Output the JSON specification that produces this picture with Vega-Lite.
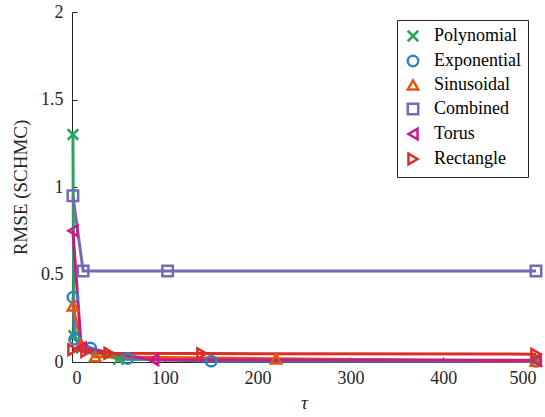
{
  "$schema": "https://vega.github.io/schema/vega-lite/v6.json",
  "autosize": "none",
  "width": 464,
  "height": 350,
  "padding": {"left": 72, "top": 12, "right": 9, "bottom": 55},
  "background": "white",
  "config": {
    "view": {"stroke": null},
    "font": "Liberation Serif",
    "axis": {"grid": false, "domainColor": "#262626", "tickColor": "#262626", "labelColor": "#262626", "titleColor": "#262626", "labelFont": "Liberation Serif", "titleFont": "Liberation Serif", "labelFontSize": 18, "titleFontSize": 19, "titleFontWeight": "normal", "tickSize": -5, "domainWidth": 1, "tickWidth": 1}
  },
  "data": {"values": [
    {"s": "Polynomial", "tau": 1, "rmse": 1.3},
    {"s": "Polynomial", "tau": 2, "rmse": 0.15},
    {"s": "Polynomial", "tau": 10, "rmse": 0.08},
    {"s": "Polynomial", "tau": 50, "rmse": 0.015},
    {"s": "Polynomial", "tau": 500, "rmse": 0.008},
    {"s": "Exponential", "tau": 1, "rmse": 0.37},
    {"s": "Exponential", "tau": 3, "rmse": 0.13},
    {"s": "Exponential", "tau": 20, "rmse": 0.08},
    {"s": "Exponential", "tau": 60, "rmse": 0.02},
    {"s": "Exponential", "tau": 150, "rmse": 0.005},
    {"s": "Exponential", "tau": 500, "rmse": 0.004},
    {"s": "Sinusoidal", "tau": 1, "rmse": 0.32},
    {"s": "Sinusoidal", "tau": 10, "rmse": 0.1},
    {"s": "Sinusoidal", "tau": 25, "rmse": 0.03},
    {"s": "Sinusoidal", "tau": 220, "rmse": 0.018},
    {"s": "Sinusoidal", "tau": 500, "rmse": 0.005},
    {"s": "Combined", "tau": 1, "rmse": 0.95},
    {"s": "Combined", "tau": 12, "rmse": 0.52},
    {"s": "Combined", "tau": 103, "rmse": 0.52},
    {"s": "Combined", "tau": 500, "rmse": 0.52},
    {"s": "Torus", "tau": 1, "rmse": 0.75},
    {"s": "Torus", "tau": 10, "rmse": 0.08},
    {"s": "Torus", "tau": 88, "rmse": 0.012},
    {"s": "Torus", "tau": 500, "rmse": 0.01},
    {"s": "Rectangle", "tau": 1, "rmse": 0.07},
    {"s": "Rectangle", "tau": 15, "rmse": 0.06},
    {"s": "Rectangle", "tau": 40, "rmse": 0.05},
    {"s": "Rectangle", "tau": 140, "rmse": 0.048},
    {"s": "Rectangle", "tau": 500, "rmse": 0.045}
  ]},
  "encoding": {
    "x": {"field": "tau", "type": "quantitative", "scale": {"domain": [0, 500], "nice": false}, "axis": {"values": [0, 100, 200, 300, 400, 500], "title": "τ", "titleFontStyle": "italic", "titlePadding": 6, "labelPadding": 12, "format": "d"}},
    "y": {"field": "rmse", "type": "quantitative", "scale": {"domain": [0, 2], "nice": false}, "axis": {"values": [0, 0.5, 1, 1.5, 2], "title": "RMSE (SCHMC)", "format": "~g", "labelPadding": 14, "titlePadding": 10}},
    "color": {"field": "s", "type": "nominal", "scale": {"domain": ["Polynomial", "Exponential", "Sinusoidal", "Combined", "Torus", "Rectangle"], "range": ["#2ca25f", "#3182bd", "#e6550d", "#756bb1", "#c51b8a", "#de2d26"]},
      "legend": {
        "title": null, "orient": "top-right", "offset": 8,
        "strokeColor": "#262626", "fillColor": "white", "padding": 7,
        "labelFont": "Liberation Serif", "labelFontSize": 18, "labelColor": "black", "labelOffset": 12,
        "symbolSize": 110, "symbolStrokeWidth": 2.5, "symbolOpacity": 1, "rowPadding": 3
      }
    }
  },
  "layer": [
    {"mark": {"type": "line", "strokeWidth": 3}},
    {
      "mark": {"type": "point", "filled": false, "strokeWidth": 2.5, "size": 110, "opacity": 1},
      "encoding": {
        "shape": {"field": "s", "type": "nominal", "scale": {"domain": ["Polynomial", "Exponential", "Sinusoidal", "Combined", "Torus", "Rectangle"], "range": ["M-1,-1L1,1M-1,1L1,-1", "circle", "triangle-up", "square", "triangle-left", "triangle-right"]}, "legend": null}
      }
    }
  ]
}
